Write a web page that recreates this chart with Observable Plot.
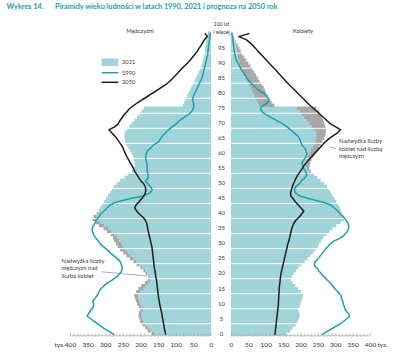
<!DOCTYPE html>
<html><head><meta charset="utf-8">
<script src="https://cdn.jsdelivr.net/npm/d3@7"></script>
<script src="https://cdn.jsdelivr.net/npm/@observablehq/plot@0.6"></script>
<style>
body{margin:0;background:#fff;font-family:Lato,"Noto Sans",sans-serif;}
#wrap{position:relative;width:400px;height:353px;overflow:hidden;background:#fff;}
#wrap > svg{position:absolute;top:0;}
.t{position:absolute;white-space:nowrap;line-height:1;color:#3a3a3a;}
</style></head><body><div id="wrap"></div>
<script>
// ages 0..100 (100 = "100 lat i więcej")
const ages = d3.range(0, 101);
// thousands of persons
const men2021 = [168,180,187,195,201,203,206,204,201,205, 210,213,216,218,212,206,198,188,180,178,
 185,192,200,211,220,230,240,249,258,265, 270,275,278,285,295,305,318,328,336,333,
 324,318,313,308,303,298,292,286,281,276, 268,258,246,235,225,218,216,217,219,221,
 225,230,235,240,243,245,246,245,238,232, 225,218,210,203,197,190,80,76,72,68,
 64,60,56,52,47,43,39,35,31,27, 24,22,20,18,17,16,14,13,12,10,8];
const women2021 = [160,171,178,186,191,195,198,196,193,197, 200,203,206,207,201,193,185,177,173,175,
 180,187,194,203,212,220,228,236,243,250, 254,260,266,275,283,292,303,315,325,326,
 320,316,312,308,303,298,292,287,282,276, 268,258,248,238,230,225,226,228,232,237,
 242,247,253,258,263,268,271,273,273,271, 268,265,262,258,252,245,125,117,112,106,
 101,98,94,88,82,77,72,67,62,56, 50,44,38,32,28,24,19,14,10,7,5];
const men1990 = [277,291,305,317,329,341,353,348,342,336, 334,337,330,324,320,315,306,296,282,270,
 262,255,253,255,258,266,276,286,295,305, 315,321,328,334,337,339,336,331,327,320,
 315,305,296,288,270,235,195,175,168,172, 180,187,180,180,182,183,182,184,186,187,
 185,182,172,164,150,145,138,130,122,112, 100,92,80,66,57,52,50,51,54,52,
 48,44,40,36,32,28,25,23,21,19, 17,15,13,11,10,9,8,7,6,5,3];
const women1990 = [261,276,290,305,319,330,340,336,328,325, 322,320,317,314,307,299,292,285,276,268,
 260,252,246,238,240,248,255,262,268,276, 284,294,314,324,332,336,338,335,330,322,
 313,306,296,286,262,227,196,184,181,184, 195,201,210,217,214,208,206,203,208,214,
 217,215,210,203,199,196,190,180,170,160, 148,132,115,100,88,83,90,105,107,103,
 95,80,70,62,52,45,40,34,28,24, 20,14,12,10,8,7,6,5,4,3,1];
const men2050 = [130,132,134,135,137,138,140,141,143,145, 147,148,150,151,152,153,154,155,156,158,
 159,160,162,163,164,165,166,167,168,169, 171,173,175,177,179,181,182,184,188,195,
 205,212,218,214,206,199,192,188,186,188, 192,200,206,211,217,221,225,230,235,240,
 244,248,251,256,262,268,275,283,291,275, 265,260,254,248,240,233,222,210,197,183,
 170,156,143,130,120,111,103,95,87,79, 70,62,55,48,41,36,30,25,20,12,18];
const women2050 = [125,126,127,128,129,130,131,132,133,134, 135,135,136,136,137,137,138,139,140,141,
 142,144,146,148,150,152,154,156,158,160, 162,165,167,169,171,173,176,180,186,195,
 202,208,200,192,184,178,171,170,172,175, 178,182,186,191,197,203,208,215,222,230,
 238,246,254,262,270,280,292,305,314,300, 285,275,266,256,247,237,227,218,210,201,
 192,184,175,166,158,150,142,134,127,118, 110,102,94,86,77,70,62,53,42,21,50];
const ageLabels = d3.range(0, 100, 5);
const xTickLabels = [0,50,100,150,200,250,300,350,400];
const xMinorTicks = d3.range(0, 401, 10);
const unit = "tys.";

const C21 = "#a0d4d9", GRAY = "#a7a7a7", TEAL = "#1aa2ad", BLACK = "#1e1e1e";
const rows = ages.map((a,i)=>({age:a, m:men2021[i], w:women2021[i], m90:men1990[i], w90:women1990[i], m50:men2050[i], w50:women2050[i]}));

const H = 353, MT = 31.6, MB = 353-335.3;
function side(isMen){
  const own = d => isMen ? d.m : d.w, other = d => isMen ? d.w : d.m;
  const marks = [
    Plot.rectX(rows, {y1:d=>d.age-0.06, y2:d=>d.age+1.06, x1:0, x2:d=>Math.min(own(d),other(d)), fill:C21}),
    Plot.rectX(rows.filter(d=>own(d)>other(d)), {y1:d=>d.age-0.06, y2:d=>d.age+1.06, x1:d=>other(d), x2:own, fill:GRAY}),
    Plot.ruleY(d3.range(5,100,5), {y:d=>d-1, x1:0, x2:d=>Math.max(...rows.map(own)), stroke:"white", strokeWidth:1}),
    Plot.line(rows, {x: isMen ? "m90" : "w90", y:d=>d.age+0.5, stroke:TEAL, strokeWidth:1.5, curve:"linear"}),
    Plot.line(rows, {x: isMen ? "m50" : "w50", y:d=>d.age+0.5, stroke:BLACK, strokeWidth:1.5}),
    Plot.ruleY([0], {stroke:"#9a9a9a", strokeWidth:0.7}),
    Plot.ruleX(xMinorTicks, {x:d=>d, y1:0, y2:d=>d%50===0?0.8:0.55, stroke:"#9a9a9a", strokeWidth:0.6}),
    Plot.text(xTickLabels, {x:d=>d, y:0, dy:9, text:d=>String(d), fontSize:6.5, fill:"#333"}),
    Plot.text([unit], {x:400, y:0, dy:9, dx: isMen ? -11 : 12, text:d=>d, fontSize:6.5, fill:"#333"})
  ];
  if (isMen) {
    marks.push(Plot.text(ageLabels, {x:0, y:d=>d+0.7, dx:10, text:d=>String(d), fontSize:6, fill:"#333"}));
    marks.push(Plot.text(["100 lat","i więcej"], {x:0, y:(d,i)=> i===0 ? 103.6 : 100.9, dx:10, text:d=>d, fontSize:5, fill:"#333"}));
  }
  return Plot.plot({
    width: isMen ? 231 : 189, height: H,
    marginTop: MT, marginBottom: MB,
    marginLeft: isMen ? 70 : 20, marginRight: isMen ? 20 : 30,
    x: {domain: isMen ? [400,0] : [0,400], axis:null},
    y: {domain:[0,101], axis:null},
    style: {background:"transparent", overflow:"visible", fontFamily:"Lato, 'Noto Sans', sans-serif"},
    marks
  });
}
const wrap = document.getElementById("wrap");
const L = side(true); L.style.left = "0px"; wrap.appendChild(L);
const R = side(false); R.style.left = "211px"; wrap.appendChild(R);

function txt(s, x, y, opts={}){
  const d = document.createElement("div");
  d.className = "t"; d.textContent = s;
  d.style.fontSize = (opts.size||6)+"px";
  if (opts.bold) d.style.fontWeight = "700";
  if (opts.color) d.style.color = opts.color;
  d.style.top = (y - (opts.size||6)/2) + "px";
  if (opts.center) { d.style.left = x+"px"; d.style.transform = "translateX(-50%)"; }
  else d.style.left = x+"px";
  wrap.appendChild(d);
}
const titleColor = "#1d9db1";
txt("Wykres 14.", 6.5, 7, {size:7.3, bold:true, color:titleColor});
txt("Piramidy wieku ludności w latach 1990, 2021 i prognoza na 2050 rok", 55, 7, {size:7.3, bold:true, color:titleColor});
txt("Mężczyźni", 140, 31, {center:true});
txt("Kobiety", 303, 31, {center:true});
// legend
const legend = [{k:"2021", y:62.3},{k:"1990", y:72.7},{k:"2050", y:82.3}];
legend.forEach(l=>txt(l.k, 122, l.y, {size:5.8}));
// annotations
["Nadwyżka liczby","mężczyzn nad","liczbą kobiet"].forEach((s,i)=>txt(s, 61.5, 260.7+i*7.5, {size:5.9}));
["Nadwyżka liczby","kobiet nad liczbą","mężczyzn"].forEach((s,i)=>txt(s, 339, 141+i*7.5, {size:5.9}));

const ns = "http://www.w3.org/2000/svg";
const ov = document.createElementNS(ns, "svg");
ov.setAttribute("width", 400); ov.setAttribute("height", 353);
ov.style.position="absolute"; ov.style.left="0"; ov.style.top="0";
function el(tag, attrs){ const e=document.createElementNS(ns,tag); for(const k in attrs) e.setAttribute(k, attrs[k]); ov.appendChild(e); }
el("rect", {x:101.7, y:58.5, width:16.6, height:7.5, fill:C21});
el("line", {x1:101.7, x2:118.3, y1:72.7, y2:72.7, stroke:TEAL, "stroke-width":1.5});
el("line", {x1:101.7, x2:118.3, y1:82.3, y2:82.3, stroke:BLACK, "stroke-width":1.5});
el("line", {x1:101.5, y1:271.8, x2:147, y2:276, stroke:"#777", "stroke-width":0.6});
el("line", {x1:330, y1:146.8, x2:336, y2:148.6, stroke:"#777", "stroke-width":0.6});
wrap.appendChild(ov);
</script>
</body></html>
